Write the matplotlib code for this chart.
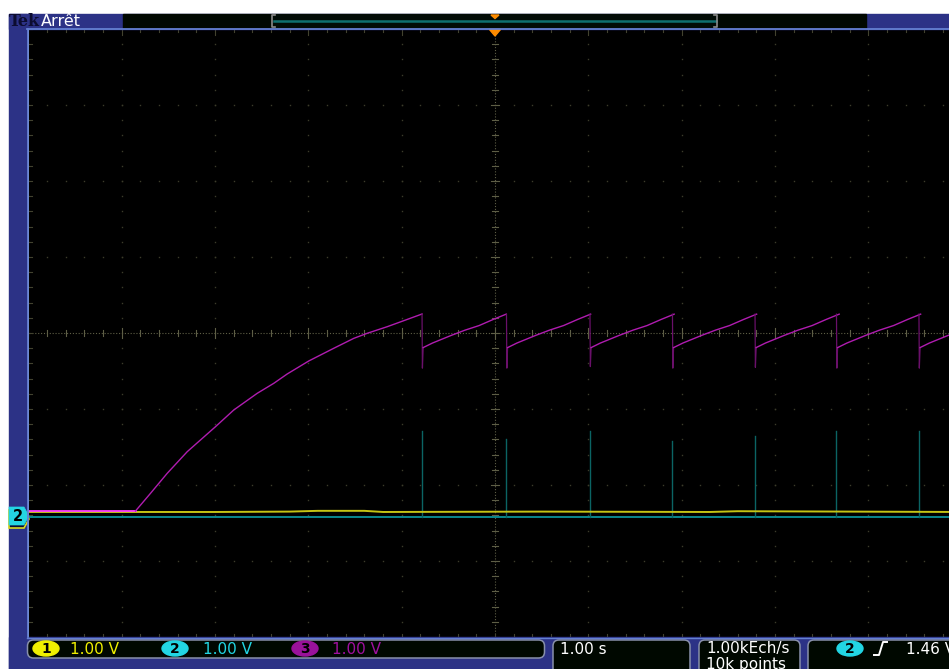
import numpy as np
import matplotlib
matplotlib.use('Agg')
import matplotlib.pyplot as plt
from matplotlib.patches import Rectangle, Polygon, Ellipse, FancyBboxPatch

# ---- values (1.00 s/div, 1.00 V/div, trigger at t=0)
ch1_gnd = -2.355   # ground levels, in divisions from screen centre
ch2_gnd = -2.421
ch3_gnd = -2.342

# channel 3 : first charge from 0 V
ch3_rise_t = [-3.853, -3.692, -3.513, -3.299, -2.996, -2.800, -2.549, -2.371,
              -2.227, -1.996, -1.728, -1.513, -1.370, -1.155, -0.978, -0.782]
ch3_rise_v = [0.0, 0.233, 0.496, 0.780, 1.109, 1.329, 1.548, 1.680,
              1.803, 1.974, 2.141, 2.272, 2.338, 2.425, 2.504, 2.592]
ch3_flat_t = [-5.0, -3.853]
ch3_flat_v = [0.0, 0.0]

# channel 3 : sawtooth after each reset
reset_t = [-0.782, 0.123, 1.018, 1.902, 2.787, 3.660, 4.544]
cycle_dt = [0.0, 0.1, 0.2, 0.3, 0.45, 0.6, 0.75, 0.89]
cycle_v = [2.15, 2.21, 2.26, 2.31, 2.38, 2.44, 2.52, 2.59]
dip_v = [1.88, 1.88, 1.90, 1.88, 1.89, 1.88, 1.88]

# channel 2 : pulses at each reset
spike_v = [1.13, 1.03, 1.13, 1.00, 1.07, 1.13, 1.13]

# channel 1 : near 0 V
ch1_t = [-5.0, -3.0, -2.2, -1.9, -1.4, -1.2, 0.5, 2.3, 2.6, 5.0]
ch1_v = [0.0, 0.0, 0.005, 0.015, 0.015, 0.0, 0.005, 0.0, 0.01, 0.0]

W, H = 949, 669
fig = plt.figure(figsize=(W / 100, H / 100), dpi=100)
fig.patch.set_facecolor('white')

# plot area: x 28.5..961.5 px, y 29..637 px (10 x 8 divisions, cut at right)
ax = fig.add_axes([28.5 / W, (H - 637) / H, 933 / W, 608 / H])
ax.set_facecolor('black')
ax.set_xlim(-5, 5)
ax.set_ylim(-4, 4)
ax.set_xticks([])
ax.set_yticks([])
for s in ax.spines.values():
    s.set_visible(False)

# graticule
dot_c = '#3c3c2a'
ctr_c = '#5e5e46'
for k in range(-4, 5):
    if k == 0:
        continue
    ys = np.arange(-20, 21) / 5
    ax.plot([k] * len(ys), ys, ls='none', marker='s', ms=1.0, mew=0, color=dot_c)
for k in range(-3, 4):
    if k == 0:
        continue
    xs = np.arange(-25, 26) / 5
    ax.plot(xs, [k] * len(xs), ls='none', marker='s', ms=1.0, mew=0, color=dot_c)
ax.axvline(0, color=ctr_c, lw=0.8, ls=(0, (1, 1.6)))
ax.axhline(0, color=ctr_c, lw=0.8, ls=(0, (1, 1.6)))
for j in range(-20, 21):
    y = j / 5
    w = 0.045 if j % 5 == 0 else 0.03
    ax.plot([-w, w], [y, y], color=ctr_c, lw=0.8)
    ax.plot([-5, -5 + 0.035], [y, y], color='#42422f', lw=0.8)
for j in range(-25, 26):
    x = j / 5
    h = 0.06 if j % 5 == 0 else 0.04
    ax.plot([x, x], [-h, h], color=ctr_c, lw=0.8)
    ax.plot([x, x], [4, 4 - (0.08 if j % 5 == 0 else 0.04)], color='#42422f', lw=0.8)
    ax.plot([x, x], [-4, -4 + 0.04], color='#42422f', lw=0.8)

# channel 2 baseline + pulses
ax.plot([-5, 5], [ch2_gnd, ch2_gnd], color='#0a9ea6', lw=1.2, zorder=3)
for t, v in zip(reset_t, spike_v):
    ax.plot([t, t], [ch2_gnd, ch2_gnd + v], color='#0b6464', lw=1.0, zorder=3)

# channel 1
ax.plot(ch1_t, np.array(ch1_v) + ch1_gnd, color='#c4c414', lw=1.4, zorder=4)

# channel 3
ax.plot(ch3_flat_t, np.array(ch3_flat_v) + ch3_gnd, color='#ff3cff', lw=1.3, zorder=5)
ax.plot(ch3_rise_t, np.array(ch3_rise_v) + ch3_gnd, color='#b01cb0', lw=1.0, zorder=5)
for t, d in zip(reset_t, dip_v):
    ax.plot([t, t + 0.004, t + 0.012], [cycle_v[-1] + ch3_gnd, d + ch3_gnd, cycle_v[0] + ch3_gnd],
            color='#6a106a', lw=0.9, zorder=5)
    ax.plot(np.array(cycle_dt) + t + 0.012, np.array(cycle_v) + ch3_gnd,
            color='#b01cb0', lw=1.0, zorder=5)

# ---- screen furniture, in pixel coordinates
ui = fig.add_axes([0, 0, 1, 1])
ui.set_xlim(0, W)
ui.set_ylim(H, 0)
ui.axis('off')
ui.patch.set_alpha(0)

blue = '#2c3286'
edge = '#6480d2'
ui.add_patch(Rectangle((9, 14), W - 9, 15, color=blue))
ui.add_patch(Rectangle((9, 14), 18.5, H - 14, color=blue))
ui.add_patch(Rectangle((9, 637), W - 9, 32, color=blue))
ui.add_patch(Rectangle((123, 14), 149, 14, color='#010801'))
ui.add_patch(Rectangle((272, 14), 446, 14, color='#020c06'))
ui.add_patch(Rectangle((718, 14), 148, 14, color='#010801'))
ui.plot([274, 716], [21, 21], color='#0f7070', lw=1.8)
for bx, d in [(272.5, 3), (717.5, -3)]:
    ui.plot([bx + d, bx, bx, bx + d], [15, 15, 27, 27], color='#8a8a8a', lw=1.2)
ui.add_patch(Polygon([(491, 15), (499, 15), (495, 18.5)], color='#ff8c00'))
ui.plot([27, W], [28.6, 28.6], color=edge, lw=1.3)
ui.plot([27.6, 27.6], [28.6, 637], color=edge, lw=1.3)
ui.plot([27, W], [637.5, 637.5], color=edge, lw=1.0)
ui.add_patch(Polygon([(489.5, 29.5), (500.5, 29.5), (495, 36)], color='#ff8c00'))

ui.text(9, 26.5, 'Tek', family='DejaVu Serif', weight='bold', fontsize=11.5,
        color='#0c0c30')
ui.text(41, 26, 'Arrêt', fontsize=11.5, color='white')

# ground markers
ui.add_patch(Polygon([(9, 510), (24, 510), (29, 519), (24, 528), (9, 528)],
                     facecolor='#0c0c30', edgecolor='#d8d820', lw=1.2))
ui.add_patch(Polygon([(9, 507), (24, 507), (29, 516), (24, 525), (9, 525)],
                     facecolor='#24d4e2', edgecolor='#24d4e2', lw=0.5))
ui.text(17.5, 516.5, '2', ha='center', va='center', fontsize=10.5,
        weight='bold', color='black')

# bottom readout boxes
box_kw = dict(boxstyle='round,pad=0,rounding_size=6', facecolor='#000800',
              edgecolor='#8890aa', lw=1.1)
ui.add_patch(FancyBboxPatch((27.5, 640), 517, 18, **box_kw))
ui.add_patch(FancyBboxPatch((553, 640), 137, 40, **box_kw))
ui.add_patch(FancyBboxPatch((699, 640), 101, 40, **box_kw))
ui.add_patch(FancyBboxPatch((808, 640), 160, 40, **box_kw))

chan = [('1', '#f0f000', '#f0f000', 46, 70),
        ('2', '#22d6e4', '#22d6e4', 175, 203),
        ('3', '#9a129a', '#a010a0', 305, 332)]
for lab, fc, tc, cx, tx in chan:
    ui.add_patch(Ellipse((cx, 648.5), 26, 15, color=fc))
    ui.text(cx, 649, lab, ha='center', va='center', fontsize=10, weight='bold',
            color='black')
    ui.text(tx, 649, '1.00 V', va='center', fontsize=11, color=tc)

ui.text(560, 649, '1.00 s', va='center', fontsize=11, color='white')
ui.text(706, 649, '1.00kEch/s', va='center', fontsize=11, color='white')
ui.text(706, 665, '10k points', va='center', fontsize=11, color='white')
ui.add_patch(Ellipse((850, 648.5), 26, 15, color='#22d6e4'))
ui.text(850, 649, '2', ha='center', va='center', fontsize=10, weight='bold',
        color='black')
ui.plot([874, 879, 883, 887], [655, 655, 642, 642], color='white', lw=1.4)
ui.text(906, 649, '1.46 V', va='center', fontsize=11, color='white')

fig.savefig('out.png', dpi=100, facecolor='white')
